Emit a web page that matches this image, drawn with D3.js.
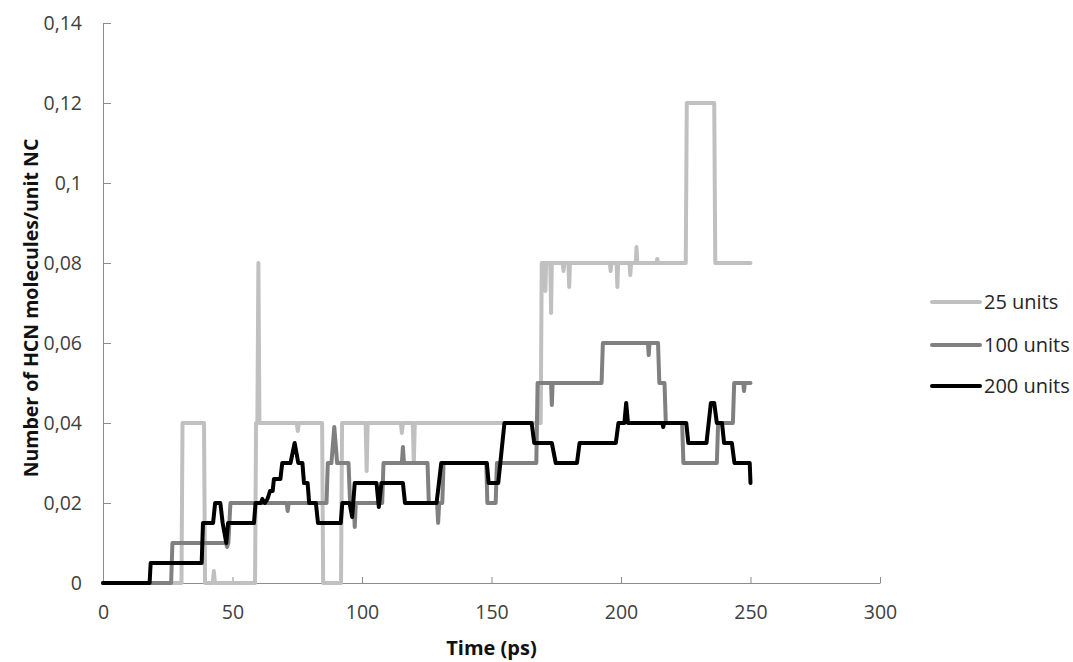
<!DOCTYPE html>
<html>
<head>
<meta charset="utf-8">
<script src="https://cdn.jsdelivr.net/npm/d3@7"></script>
<style>
  html, body { margin: 0; padding: 0; background: #fff; }
  svg { display: block; }
  text { font-family: "Open Sans", sans-serif; }
</style>
</head>
<body>
<svg id="chart" width="1073" height="662"></svg>
<script>
// ---- data (time in ps, value in HCN molecules / unit NC) ----
const seriesNames = ["25 units", "100 units", "200 units"];

const units25 = [
  [0,0],[30.3,0],[30.7,0.04],[39.0,0.04],[39.4,0],[42.4,0],[42.8,0.003],[43.2,0],
  [58.7,0],[59.1,0.04],[59.6,0.04],[60.0,0.08],[60.4,0.04],[74.8,0.04],[75.2,0.038],[75.6,0.04],
  [84.6,0.04],[85.0,0],[91.9,0],[92.3,0.04],[101.4,0.04],[101.8,0.028],[102.2,0.04],
  [115.0,0.04],[115.4,0.0375],[115.8,0.04],[119.6,0.04],[120.0,0.03],[120.4,0.04],
  [169.0,0.04],[169.4,0.08],[170.5,0.08],[170.8,0.073],[171.1,0.08],[172.7,0.08],[173.0,0.0675],[173.3,0.08],
  [177.5,0.08],[177.8,0.078],[178.1,0.08],[179.7,0.08],[180.0,0.074],[180.3,0.08],
  [195.7,0.08],[196.0,0.078],[196.3,0.08],[198.3,0.08],[198.6,0.074],[198.9,0.08],
  [203.3,0.08],[203.6,0.077],[203.9,0.08],[205.7,0.08],[206.0,0.084],[206.3,0.08],
  [213.7,0.08],[214.0,0.081],[214.3,0.08],[225.0,0.08],[225.4,0.12],[236.0,0.12],[236.4,0.08],[250,0.08]
];

const units100 = [
  [0,0],[26.3,0],[26.8,0.01],[47.4,0.01],[47.9,0.009],[48.4,0.01],[49.2,0.02],
  [70.9,0.02],[71.3,0.018],[71.7,0.02],[86.3,0.02],[86.8,0.03],[88.2,0.03],[89.3,0.039],[90.4,0.03],
  [94.8,0.03],[95.4,0.02],[96.8,0.02],[97.2,0.014],[97.6,0.02],[107.8,0.02],[108.3,0.03],
  [115.4,0.03],[115.8,0.034],[116.2,0.03],[125.3,0.03],[125.8,0.02],[129.0,0.02],[129.4,0.015],[129.8,0.02],
  [131.0,0.02],[131.5,0.03],[148.0,0.03],[148.4,0.02],[151.6,0.02],[152.1,0.03],
  [167.3,0.03],[167.8,0.05],[173.0,0.05],[173.3,0.0445],[173.6,0.05],[192.5,0.05],[193.0,0.06],
  [210.4,0.06],[210.7,0.057],[211.0,0.06],[214.3,0.06],[214.8,0.05],[216.8,0.05],[217.3,0.04],
  [223.6,0.04],[224.1,0.03],[237.0,0.03],[237.5,0.04],[243.2,0.04],[243.7,0.05],
  [247.2,0.05],[247.5,0.048],[247.8,0.05],[250,0.05]
];

const units200 = [
  [0,0],[18.0,0],[18.4,0.005],[38.1,0.005],[38.6,0.015],[42.5,0.015],[43.3,0.02],[45.3,0.02],
  [46.2,0.015],[47.6,0.01],[48.3,0.015],[58.3,0.015],[58.9,0.02],[61.0,0.02],[61.5,0.021],[62.5,0.02],
  [63.5,0.021],[64.5,0.023],[65.5,0.023],[66.0,0.026],[68.5,0.026],[69.2,0.03],[72.4,0.03],[74.0,0.035],
  [75.4,0.03],[77.0,0.03],[77.6,0.025],[79.0,0.025],[79.6,0.02],[82.2,0.02],[83.0,0.015],
  [91.8,0.015],[92.4,0.02],[95.2,0.02],[96.2,0.0165],[97.2,0.025],[105.6,0.025],[106.5,0.019],[107.5,0.025],
  [115.8,0.025],[116.6,0.02],[128.8,0.02],[130.6,0.03],[148.2,0.03],[148.9,0.025],[152.6,0.025],
  [155.0,0.04],[165.5,0.04],[166.5,0.035],[173.3,0.035],[174.8,0.03],[183.0,0.03],[184.0,0.035],
  [198.0,0.035],[199.0,0.04],[201.3,0.04],[202.0,0.045],[202.7,0.04],[216.0,0.04],[216.3,0.039],[216.6,0.04],
  [225.2,0.04],[226.0,0.035],[233.0,0.035],[234.7,0.045],[236.0,0.045],[237.0,0.04],[239.0,0.04],
  [239.8,0.035],[242.8,0.035],[243.8,0.03],[249.7,0.03],[250,0.025]
];

const seriesData = [units25, units100, units200];
const seriesColors = ["#c0c0c0", "#808080", "#000000"];

const xTicks = [0, 50, 100, 150, 200, 250, 300];
const yTicks = [0, 0.02, 0.04, 0.06, 0.08, 0.1, 0.12, 0.14];
const yTickLabels = ["0", "0,02", "0,04", "0,06", "0,08", "0,1", "0,12", "0,14"];

const xTitle = "Time (ps)";
const yTitle = "Number of HCN molecules/unit NC";

// ---- layout ----
const svg = d3.select("#chart");
const x = d3.scaleLinear().domain([0, 300]).range([103, 880]);
const y = d3.scaleLinear().domain([0, 0.14]).range([583, 23]);

const axisColor = "#8c8c8c";
const labelColor = "#404040";

// y axis (ticks pointing inward)
const yAxis = svg.append("g")
  .attr("transform", `translate(${x(0)},0)`)
  .call(d3.axisLeft(y).tickValues(yTicks)
    .tickFormat((d, i) => yTickLabels[i])
    .tickSizeInner(-8).tickSizeOuter(0).tickPadding(21));
yAxis.select(".domain").attr("stroke", axisColor);
yAxis.selectAll(".tick line").attr("stroke", axisColor);
yAxis.selectAll(".tick text").attr("fill", labelColor)
  .style("font-size", "19.5px").style("font-family", "'Open Sans', sans-serif");

// x axis (ticks pointing inward)
const xAxis = svg.append("g")
  .attr("transform", `translate(0,${y(0)})`)
  .call(d3.axisBottom(x).tickValues(xTicks)
    .tickSizeInner(-6).tickSizeOuter(0).tickPadding(22));
xAxis.select(".domain").attr("stroke", axisColor);
xAxis.selectAll(".tick line").attr("stroke", axisColor);
xAxis.selectAll(".tick text").attr("fill", labelColor)
  .style("font-size", "19.5px").style("font-family", "'Open Sans', sans-serif");

// axis titles
svg.append("text")
  .attr("x", (x(0) + x(300)) / 2).attr("y", 655)
  .attr("text-anchor", "middle")
  .attr("fill", "#111")
  .style("font-size", "20px").style("font-weight", "bold")
  .text(xTitle);

svg.append("text")
  .attr("transform", `translate(38,${(y(0) + y(0.14)) / 2 + 5}) rotate(-90)`)
  .attr("text-anchor", "middle")
  .attr("fill", "#111")
  .style("font-size", "19.5px").style("font-weight", "bold")
  .text(yTitle);

// series lines
const line = d3.line().x(d => x(d[0])).y(d => y(d[1]));
svg.append("g").selectAll("path")
  .data(seriesData)
  .join("path")
  .attr("d", line)
  .attr("fill", "none")
  .attr("stroke", (d, i) => seriesColors[i])
  .attr("stroke-width", 4)
  .attr("stroke-linejoin", "round")
  .attr("stroke-linecap", "round");

// legend
const legendY = [302, 345, 386];
const lg = svg.append("g").selectAll("g")
  .data(seriesNames)
  .join("g")
  .attr("transform", (d, i) => `translate(932,${legendY[i]})`);
lg.append("line")
  .attr("x1", 0).attr("x2", 48).attr("y1", 0).attr("y2", 0)
  .attr("stroke", (d, i) => seriesColors[i])
  .attr("stroke-width", 4)
  .attr("stroke-linecap", "round");
lg.append("text")
  .attr("x", 52).attr("y", 0).attr("dy", "0.35em")
  .attr("fill", "#262626")
  .style("font-size", "20px")
  .text(d => d);
</script>
</body>
</html>
